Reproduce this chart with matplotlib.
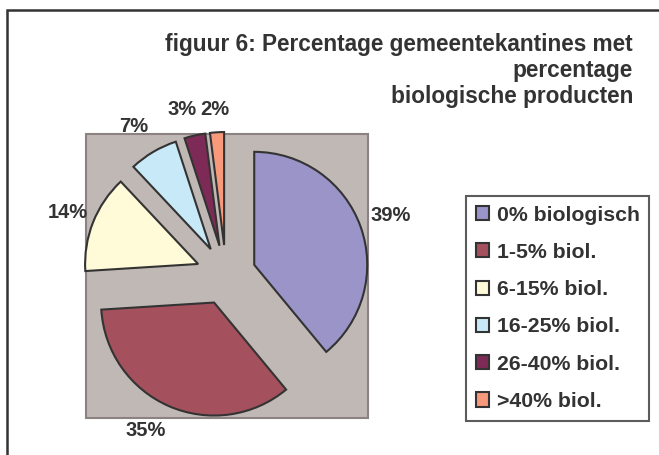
import matplotlib.pyplot as plt
from matplotlib.patches import Rectangle
import numpy as np

# data
categories = ["0% biologisch", "1-5% biol.", "6-15% biol.", "16-25% biol.", "26-40% biol.", ">40% biol."]
shares = [39, 35, 14, 7, 3, 2]
colors = ["#9A94C8", "#A5505D", "#FFFBD8", "#C8EAF8", "#7D2A56", "#F7997A"]
title_lines = ["figuur 6: Percentage gemeentekantines met", "percentage", "biologische producten"]

# label placement: distance from (exploded) wedge centre in radii, angle tweak in degrees
label_dist = [1.28, 1.28, 1.24, 1.28, 1.25, 1.20]
label_turn = [0, -4.6, 0, 1.7, 2.6, 0.2]

plt.rcParams['font.family'] = ['Liberation Sans', 'DejaVu Sans']
textcol = "#333333"

fig = plt.figure(figsize=(6.59, 4.55), dpi=100)
ax = fig.add_axes([0, 0, 1, 1])

# plot area background (pixel coords, y up)
ax.add_patch(Rectangle((86, 37), 282, 284, facecolor="#C0B8B5", edgecolor="#8C8282", lw=1.5, zorder=0))

wedges, _ = ax.pie(shares, colors=colors, startangle=90, counterclock=False,
                   center=(226, 180), radius=113, explode=[30] * len(shares),
                   wedgeprops=dict(edgecolor="#333333", linewidth=1.5))

for w, s, d, t in zip(wedges, shares, label_dist, label_turn):
    th = np.deg2rad((w.theta1 + w.theta2) / 2 + t)
    cx, cy = w.center
    ax.text(cx + d * w.r * np.cos(th), cy + d * w.r * np.sin(th), f"{s}%",
            ha="center", va="center", fontsize=14.5, fontweight="bold", color=textcol)

# title, right aligned, one text per line
for i, line in enumerate(title_lines):
    ax.text(633, 411 - 26.5 * i, line, ha="right", va="center",
            fontsize=16.3, fontweight="bold", color=textcol)

leg = ax.legend(wedges, categories, loc="upper left", bbox_to_anchor=(466 / 659, 259 / 455),
                bbox_transform=fig.transFigure, frameon=True, fancybox=False,
                handlelength=0.65, handleheight=0.65, handletextpad=0.35,
                labelspacing=0.86, borderpad=0.45, borderaxespad=0,
                prop=dict(size=15.3, weight="bold"))
leg.get_frame().set_edgecolor("#333333")
leg.get_frame().set_linewidth(1.5)
for t in leg.get_texts():
    t.set_color(textcol)

# outer chart frame
ax.add_patch(Rectangle((7, -20), 700, 465, facecolor="none", edgecolor="#333333", lw=1.8, clip_on=False))

ax.set_xlim(0, 659)
ax.set_ylim(0, 455)
ax.set_aspect("equal")
ax.axis("off")

plt.savefig("out.png", dpi=100)
